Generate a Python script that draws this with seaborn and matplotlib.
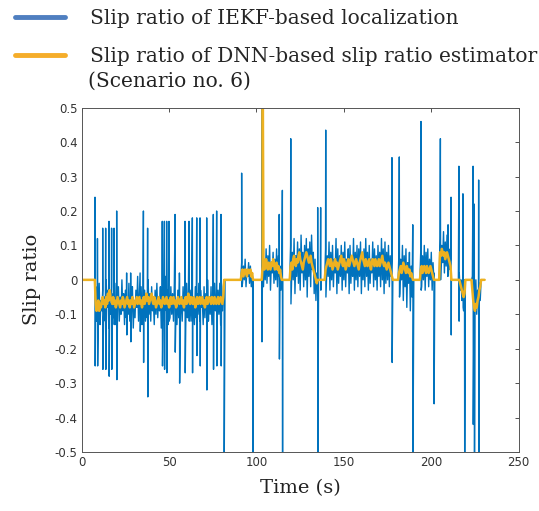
import numpy as np
import pandas as pd
import matplotlib
matplotlib.use("Agg")
import matplotlib.pyplot as plt
import seaborn as sns
from matplotlib.lines import Line2D

# ---- data (values in hundredths of slip ratio, sampled every 0.5 s) ----
STEP = 0.5
T_END = 230.5

seg_start = [8.0, 91.5, 103.5, 119.5, 139.5, 181.5, 194.0, 205.0, 216.0, 223.5]

blue_a = [-2, -12, -4, -10, -1, -13, -6, -9, -3, -11,
          -5, -12, 0, -8, -3, -14, -7, -10, -2, -9,
          -4, -11, -1, -13, -6, -8, -2, -12, -5, -10,
          0, -9, -4, -13, -3, -11, -7, -10, -1, -12,
          -5, -9, -2, -14, -6, -11, -3, -8, 1, -12,
          -4, -10, -2, -13, -7, -9, -3, -12, -5, -11,
          0, -10, -4, -12, -2, -9, -6, -13, -3, -10,
          -1, -11, -5, -9, -2, -14, -4, -12, -6, -10,
          1, -9, -3, -13, -5, -11, -2, -10, -4, -12,
          -1, -8, -6, -13, -3, -11, 0, -10, -5, -12,
          -2, -9, -4, -14, -1, -11, -6, -10, -3, -12,
          0, -9, -5, -13, -2, -11, -4, -10, -1, -12,
          -3, -8, -6, -13, -2, -11, -4, -9, 0, -12,
          -5, -10, -2, -13, -4, -11, -1, -9, -6, -12,
          -3, -10, -1, -13, -5, -9, -2]
blue_b = [5, -1, 4, 0, 6, -2, 3, 1, 5, -1, 4, -2, 2]
blue_c = [8, -2, 6, 0, 9, -1, 7, 1, 10, -3, 5, 2, 8, -1, 6, 0, 9, -2, 7, 1, 4, -3, 3]
blue_d = [10, -2, 8, 0, 12, -4, 7, 1, 11, -1, 9, -3, 13, 2, 8, -2,
          10, 0, 12, -5, 9, 1, 11, -2, 13, 3, 8, -4, 6, -6, 2]
blue_e = [9, -1, 7, 1, 11, -3, 8, 0, 10, -2,
          6, 2, 12, -4, 9, -1, 7, 1, 10, -3,
          8, 0, 11, -2, 6, 2, 9, -4, 10, -1,
          7, 1, 12, -3, 8, 0, 10, -2, 9, 1,
          11, -4, 7, 0, 9, -2, 12, 1, 8, -3,
          10, -1, 6, 2, 11, -2, 9, 0, 7, -3,
          10, 1, 8, -2, 12, 0, 9, -4, 11, -1,
          8, 0, 10, -2, 7, 1, 9]
blue_f = [8, -4, 6, 0, 10, -6, 7, -2, 9, -8, 5, -1, 8, -9, 4, -5]
blue_g = [9, -2, 7, 0, 10, -3, 8, 1, 9, -2, 6, 0, 8, -3, 5]
blue_h = [12, 3, 10, 5, 14, 2, 11, 4, 13, 1, 9, 3, 6]
blue_i = [2, -3, 0, -6, -3, -9, -5]
blue_j = [1, -7, -2, -9, 0, -10, -3, -8, -1, -6]

yellow_a = [-7, -9, -8, -6, -9, -7, -8, -6, -5, -7,
            -6, -8, -5, -7, -4, -6, -3, -5, -6, -7,
            -5, -7, -6, -8, -7, -5, -6, -7, -8, -6,
            -7, -5, -6, -8, -7, -6, -5, -7, -6, -8,
            -6, -7, -5, -6, -8, -7, -6, -5, -7, -6,
            -5, -7, -6, -8, -6, -5, -7, -6, -4, -6,
            -5, -7, -6, -5, -4, -6, -7, -5, -6, -8,
            -7, -6, -5, -7, -6, -8, -7, -5, -6, -7,
            -6, -5, -7, -6, -8, -6, -5, -7, -6, -5,
            -7, -6, -8, -7, -5, -6, -7, -6, -5, -7,
            -6, -8, -6, -5, -7, -6, -4, -6, -7, -5,
            -6, -7, -5, -6, -8, -6, -5, -7, -6, -5,
            -7, -6, -5, -7, -6, -8, -6, -5, -7, -6,
            -5, -6, -7, -5, -6, -7, -5, -6, -7, -6,
            -5, -7, -6, -5, -6, -7, -5]
yellow_b = [2, 3, 1, 2, 3, 2, 1, 3, 2, 2, 3, 1, 2]
yellow_c = [4, 5, 3, 4, 6, 4, 3, 5, 4, 3, 5, 4, 6, 5, 3, 4, 5, 3, 4, 2, 3, 1, 0]
yellow_d = [4, 5, 3, 6, 7, 5, 4, 6, 5, 7, 8, 6, 5, 4, 3, 5,
            6, 7, 8, 7, 6, 5, 6, 7, 5, 4, 3, 2, 1, 0, -1]
yellow_e = [3, 4, 5, 6, 5, 4, 6, 5, 3, 4,
            5, 6, 4, 5, 3, 4, 5, 6, 7, 5,
            4, 6, 5, 3, 4, 5, 6, 4, 5, 6,
            7, 6, 5, 4, 5, 6, 5, 4, 3, 5,
            6, 7, 8, 6, 5, 4, 6, 5, 4, 5,
            6, 4, 3, 5, 6, 5, 4, 6, 5, 4,
            5, 6, 4, 5, 6, 7, 5, 4, 5, 4,
            3, 4, 5, 4, 3, 2, 1]
yellow_f = [2, 3, 4, 2, 3, 5, 4, 3, 2, 4, 3, 2, 3, 1, 2, 1]
yellow_g = [3, 4, 2, 3, 4, 3, 2, 4, 3, 2, 3, 4, 3, 2, 1]
yellow_h = [8, 7, 9, 8, 7, 8, 6, 7, 8, 7, 6, 5, 4]
yellow_i = [0, -1, -2, -3, -4, -5, -4]
yellow_j = [-3, -6, -8, -9, -7, -8, -6, -5, -3, -2]

# spikes of the IEKF estimate: time (s), peak, trough
spike_t = [7.6, 9.0, 12.0, 13.7, 15.6, 17.1, 18.5, 20.0, 25.7, 28.0, 33.4, 35.3,
           37.7, 46.1, 47.3, 48.6, 49.9, 53.4, 55.9, 59.1, 61.4, 63.3, 65.8,
           67.7, 71.5, 75.3, 77.2, 79.7, 81.4, 91.5, 97.8, 103.0, 113.0, 114.8,
           119.6, 135.0, 136.7, 139.6, 177.5, 181.7, 189.4, 194.1, 201.5, 205.2,
           209.6, 211.3, 215.8, 218.1, 219.0, 223.9, 224.6, 227.1]
spike_hi = [0.24, 0.12, 0.15, 0.15, 0.17, 0.15, 0.15, 0.20, 0.02, 0.02, 0.02, 0.20,
            0.15, 0.17, 0.17, 0.17, 0.17, 0.19, 0.02, 0.17, 0.17, 0.18, 0.18,
            0.18, 0.18, 0.19, 0.20, 0.19, 0.0, 0.31, 0.0, 0.55, 0.19, 0.26,
            0.41, 0.21, 0.21, 0.435, 0.355, 0.357, 0.16, 0.46, 0.02, 0.41,
            0.16, 0.24, 0.33, 0.25, 0.0, 0.33, 0.22, 0.29]
spike_lo = [-0.25, -0.25, -0.26, -0.26, -0.28, -0.26, -0.13, -0.29, -0.16, -0.18, -0.15, -0.24,
            -0.34, -0.25, -0.26, -0.27, -0.12, -0.21, -0.30, -0.27, -0.12, -0.27, -0.22,
            -0.25, -0.32, -0.26, -0.25, -0.25, -0.55, -0.02, -0.55, -0.18, -0.23, -0.55,
            -0.07, -0.55, -0.03, -0.05, -0.24, -0.05, -0.55, -0.03, -0.36, 0.0,
            0.02, -0.16, -0.12, -0.08, -0.55, -0.42, -0.55, -0.55]

# DNN estimate spike
yspike_t = [103.6]
yspike_v = [0.55]

x_ticks = [0, 50, 100, 150, 200, 250]
y_ticks = [0.5, 0.4, 0.3, 0.2, 0.1, 0, -0.1, -0.2, -0.3, -0.4, -0.5]
y_tick_labels = ["0.5", "0.4", "0.3", "0.2", "0.1", "0", "-0.1", "-0.2", "-0.3", "-0.4", "-0.5"]

BLUE = "#0072BD"
YELLOW = "#EDB120"


def build_series(segments, extra_t, extra_v):
    t = np.arange(0, T_END + STEP / 2, STEP)
    v = np.zeros_like(t)
    for start, vals in zip(seg_start, segments):
        i0 = int(round(start / STEP))
        v[i0:i0 + len(vals)] = np.asarray(vals) / 100.0
    df = pd.DataFrame({"t": np.concatenate([t, extra_t]),
                       "v": np.concatenate([v, extra_v])})
    return df.sort_values("t", kind="stable").reset_index(drop=True)


blue_segments = [blue_a, blue_b, blue_c, blue_d, blue_e, blue_f, blue_g, blue_h, blue_i, blue_j]
yellow_segments = [yellow_a, yellow_b, yellow_c, yellow_d, yellow_e, yellow_f, yellow_g,
                   yellow_h, yellow_i, yellow_j]

sp_t = np.concatenate([np.array(spike_t), np.array(spike_t) + 0.12])
sp_v = np.concatenate([spike_hi, spike_lo])
df_blue = build_series(blue_segments, sp_t, sp_v)
df_yellow = build_series(yellow_segments, np.array(yspike_t), np.array(yspike_v))

sns.set_theme(style="white")
plt.rcParams["font.family"] = ["DejaVu Sans"]

fig = plt.figure(figsize=(5.39, 5.11), dpi=100)
ax = fig.add_axes([0.1516, 0.1155, 0.8107, 0.6737])

sns.lineplot(data=df_blue, x="t", y="v", estimator=None, sort=False,
             color=BLUE, linewidth=1.0, ax=ax)
sns.lineplot(data=df_yellow, x="t", y="v", estimator=None, sort=False,
             color=YELLOW, linewidth=1.8, ax=ax)

ax.set_xlim(0, 250)
ax.set_ylim(-0.5, 0.5)
ax.set_xticks(x_ticks)
ax.set_yticks(y_ticks)
ax.set_yticklabels(y_tick_labels)
ax.tick_params(direction="in", length=3, width=0.6, top=True, right=True,
               labelsize=8.5, labelcolor="#333333", color="#333333", pad=3)
for s in ax.spines.values():
    s.set_color("#555555")
    s.set_linewidth(0.7)

serif = ["DejaVu Serif"]
ax.set_xlabel("Time (s)", family=serif, fontsize=14, color="#222222", labelpad=7)
ax.set_ylabel("Slip ratio", family=serif, fontsize=14, color="#222222", labelpad=10)

handles = [Line2D([], [], color="#4F7FC0", linewidth=3.5),
           Line2D([], [], color="#F5AD2A", linewidth=3.5)]
fig.legend(handles,
           ["Slip ratio of IEKF-based localization",
            "Slip ratio of DNN-based slip ratio estimator"],
           loc="upper left", bbox_to_anchor=(-0.002, 1.014), frameon=False,
           prop={"family": serif, "size": 14.5}, handlelength=2.5,
           handletextpad=1.2, labelspacing=0.95, borderpad=0.3)
fig.text(88 / 539, 1 - 81 / 511, "(Scenario no. 6)", family=serif, fontsize=14.5,
         color="#222222", va="center", ha="left")

fig.savefig("out.png", dpi=100)
